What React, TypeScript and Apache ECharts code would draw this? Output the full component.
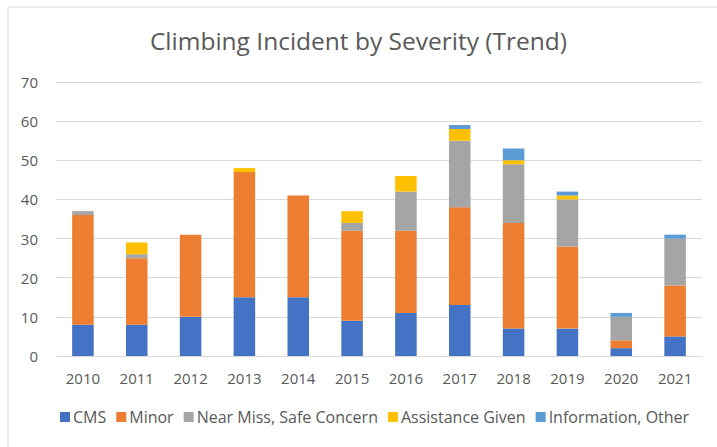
import React, { useEffect, useRef } from "react";
import * as echarts from "echarts";

const years = ["2010", "2011", "2012", "2013", "2014", "2015", "2016", "2017", "2018", "2019", "2020", "2021"];
const cms = [8, 8, 10, 15, 15, 9, 11, 13, 7, 7, 2, 5];
const minor = [28, 17, 21, 32, 26, 23, 21, 25, 27, 21, 2, 13];
const nearMiss = [1, 1, 0, 0, 0, 2, 10, 17, 15, 12, 6, 12];
const assistance = [0, 3, 0, 1, 0, 3, 4, 3, 1, 1, 0, 0];
const information = [0, 0, 0, 0, 0, 0, 0, 1, 3, 1, 1, 1];

const seriesNames = ["CMS", "Minor", "Near Miss, Safe Concern", "Assistance Given", "Information, Other"];
const seriesData = [cms, minor, nearMiss, assistance, information];
const colors = ["#4472C4", "#ED7D31", "#A5A5A5", "#FFC000", "#5B9BD5"];

const FONT = "Open Sans";
const TEXT = "#595959";

export default function App() {
  const ref = useRef<HTMLDivElement>(null);
  useEffect(() => {
    if (!ref.current) return;
    const chart = echarts.init(ref.current, undefined, { renderer: "svg" });
    chart.setOption({
      animation: false,
      backgroundColor: "#fff",
      title: {
        text: "Climbing Incident by Severity (Trend)",
        left: "center",
        top: 23,
        textStyle: { fontFamily: FONT, fontSize: 24.5, fontWeight: "normal", color: TEXT },
      },
      graphic: [
        {
          type: "rect",
          shape: { x: 8, y: 7, width: 720, height: 460 },
          style: { fill: "none", stroke: "#D9D9D9", lineWidth: 1 },
          silent: true,
        },
      ],
      legend: {
        bottom: 17,
        left: 55,
        icon: "rect",
        itemWidth: 10,
        itemHeight: 10,
        itemGap: 10,
        textStyle: { fontFamily: FONT, fontSize: 16, color: TEXT, padding: [0, 0, 0, -2] },
        data: seriesNames,
      },
      grid: { left: 56, right: 15, top: 82, bottom: 91, containLabel: false },
      xAxis: {
        type: "category",
        data: years,
        axisLine: { lineStyle: { color: "#D9D9D9" } },
        axisTick: { show: false },
        axisLabel: { fontFamily: FONT, fontSize: 15, color: TEXT, margin: 14 },
      },
      yAxis: {
        type: "value",
        min: 0,
        max: 70,
        interval: 10,
        axisLine: { show: false },
        axisTick: { show: false },
        splitLine: { lineStyle: { color: "#D9D9D9", width: 1 } },
        axisLabel: { fontFamily: FONT, fontSize: 15, color: TEXT, margin: 18 },
      },
      series: seriesNames.map((name, i) => ({
        name,
        type: "bar",
        stack: "total",
        data: seriesData[i],
        barWidth: "40%",
        itemStyle: { color: colors[i] },
      })),
    });
    return () => chart.dispose();
  }, []);
  return <div ref={ref} style={{ position: "absolute", left: 0, top: 0, width: 717, height: 447 }} />;
}
